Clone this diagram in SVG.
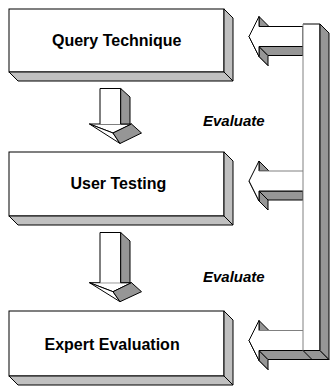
<svg xmlns="http://www.w3.org/2000/svg" width="333" height="387" viewBox="0 0 333 387">
<style>
.front{fill:#fff;stroke:#000;stroke-width:1}
.side{fill:#c0c0c0;stroke:#000;stroke-width:1}
.dark{fill:#969696;stroke:#000;stroke-width:1}
.wh{fill:#fff;stroke:#000;stroke-width:1}
.lbl{font-family:"Liberation Sans",Arial,sans-serif;font-weight:bold;font-size:16px;fill:#000}
.ev{font-family:"Liberation Sans",Arial,sans-serif;font-weight:bold;font-style:italic;font-size:15px;fill:#000}
.gl{fill:none;stroke:#808080;stroke-width:1}
</style>
<rect width="333" height="387" fill="#fff"/>
<g id="node-query">
<rect class="front" x="9" y="9" width="215" height="63"/>
<polygon class="side" points="224,9 233,18 233,81 224,72"/>
<polygon class="side" points="9,72 224,72 233,81 18,81"/>
<text class="lbl" x="52" y="45.5">Query Technique</text>
</g>
<g id="node-user">
<rect class="front" x="9" y="152" width="215" height="64"/>
<polygon class="side" points="224,152 233,161 233,225 224,216"/>
<polygon class="side" points="9,216 224,216 233,225 18,225"/>
<text class="lbl" x="70.5" y="189">User Testing</text>
</g>
<g id="node-expert">
<rect class="front" x="9" y="311" width="215" height="65"/>
<polygon class="side" points="224,311 233,320 233,385 224,376"/>
<polygon class="side" points="9,376 224,376 233,385 18,385"/>
<text class="lbl" x="44.5" y="349.5">Expert Evaluation</text>
</g>
<g id="connectors">
<g id="down-arrow-1">
<polygon class="wh" points="89.5,124 131.5,124 113,133"/>
<polygon class="wh" points="89.5,124 113,133 120,143.5"/>
<polygon class="dark" points="113,133 131.5,124 141.5,133 120,143.5"/>
<polygon points="100,124 100,88.5 120.7,88.5 120.7,124" fill="#fff"/>
<path d="M100,124V88.5H120.7V124" fill="none" stroke="#000"/>
<polygon class="dark" points="120.7,88.5 130,97 130,124 120.7,124"/>
</g>
<g id="down-arrow-2">
<polygon class="wh" points="89.5,282.7 131.5,282.7 113,291.7"/>
<polygon class="wh" points="89.5,282.7 113,291.7 120,301.7"/>
<polygon class="dark" points="113,291.7 131.5,282.7 141.5,291.7 120,301.7"/>
<polygon points="100,282.7 100,232.5 120.7,232.5 120.7,282.7" fill="#fff"/>
<path d="M100,282.7V232.5H120.7V282.7" fill="none" stroke="#000"/>
<polygon class="dark" points="120.7,232.5 130,241 130,282.7 120.7,282.7"/>
</g>
<g id="left-arrow-1">
<polygon class="wh" points="249,36.5 259,56.5 268,65.5 258,45.5"/>
<polygon class="dark" points="259,46.5 259,56.5 268,65.5 268,55.5"/>
<polygon class="dark" points="259,46.5 303,46.5 303,55.5 268,55.5"/>
<polygon class="dark" points="259,16.5 269,26.5 259,26.5"/>
<polygon class="wh" points="249,36.5 259,16.5 259,26.5 303,26.5 303,46.5 259,46.5 259,56.5"/>
</g>
<g id="left-arrow-2">
<polygon class="wh" points="249,181 259,201 268,210 258,190"/>
<polygon class="dark" points="259,191 259,201 268,210 268,200"/>
<polygon class="dark" points="259,191 303,191 303,200 268,200"/>
<polygon class="dark" points="259,161 269,171 259,171"/>
<polygon points="249,181 259,161 259,171 303,171 303,191 259,191 259,201" fill="#fff"/>
<path d="M303,191H259V201L249,181L259,161V171" fill="none" stroke="#000"/>
<path d="M259,171H303" class="gl"/>
</g>
<g id="left-arrow-3">
<polygon class="wh" points="249,340.5 259,360.5 268,369.5 258,349.5"/>
<polygon class="dark" points="259,350.5 259,360.5 268,369.5 268,359.5"/>
<polygon class="dark" points="259,350.5 320,350.5 329,359.5 268,359.5"/>
<line x1="303" y1="350.5" x2="312" y2="359.5" stroke="#000"/>
<polygon class="dark" points="259,320.5 269,330.5 259,330.5"/>
<polygon points="249,340.5 259,320.5 259,330.5 303,330.5 303,350.5 259,350.5 259,360.5" fill="#fff"/>
<path d="M303,350.5H259V360.5L249,340.5L259,320.5V330.5" fill="none" stroke="#000"/>
<path d="M259,330.5H303" class="gl"/>
</g>
<g id="feedback-bar">
<rect x="303" y="24" width="17" height="326.5" fill="#fff"/>
<path d="M303,24H320V350.5H303" fill="none" stroke="#000"/>
<path d="M303,24V350.5" class="gl"/>
<polygon class="dark" points="320,24 329,33 329,359.5 320,350.5"/>
</g>
</g>
<text class="ev" x="203" y="126">Evaluate</text>
<text class="ev" x="203" y="282">Evaluate</text>
</svg>
